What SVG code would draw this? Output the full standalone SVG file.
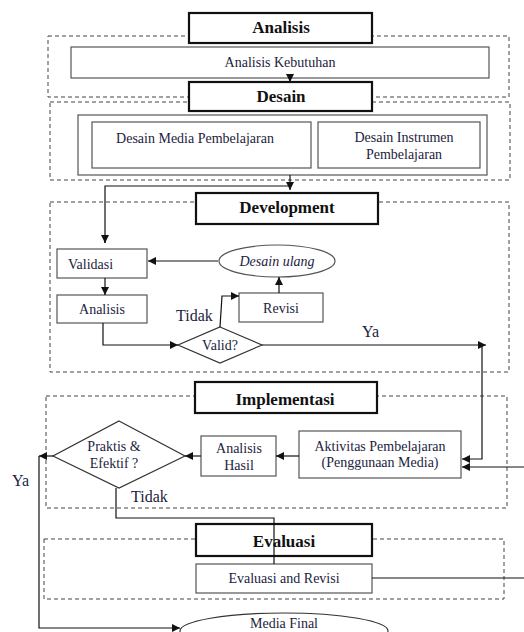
<svg xmlns="http://www.w3.org/2000/svg" width="524" height="632" viewBox="0 0 524 632">
<defs>
<marker id="ah" viewBox="0 0 10 10" refX="10" refY="5" markerWidth="8" markerHeight="8" markerUnits="userSpaceOnUse" orient="auto">
<path d="M0,0 L10,5 L0,10 z" fill="#111"/>
</marker>
</defs>
<style>
.dash{fill:none;stroke:#444;stroke-width:1;stroke-dasharray:4 3}
.title{fill:#fff;stroke:#111;stroke-width:2.2}
.box{fill:#fff;stroke:#555;stroke-width:1.2}
.tt{font-family:"Liberation Serif","Times New Roman",serif;font-weight:bold;font-size:17px;fill:#111;text-anchor:middle}
.t{font-family:"Liberation Serif","Times New Roman",serif;font-size:14px;fill:#1c2340;text-anchor:middle}
.lbl{font-family:"Liberation Serif","Times New Roman",serif;font-size:16px;fill:#1c2340}
.ln{fill:none;stroke:#111;stroke-width:1.2}
</style>
<rect width="524" height="632" fill="#fff"/>

<g id="sections">
<rect class="dash" x="48" y="36" width="461" height="61"/>
<rect class="dash" x="50" y="102" width="460" height="78"/>
<rect class="dash" x="50" y="202" width="459" height="170"/>
<rect class="dash" x="46" y="396" width="461" height="112"/>
<rect class="dash" x="44" y="539" width="460" height="60"/>
</g>

<g id="analisis">
<rect class="title" x="189" y="13" width="183" height="30"/>
<text class="tt" x="281" y="33">Analisis</text>
</g>
<g id="analisis-kebutuhan">
<rect class="box" x="71" y="47" width="418" height="31"/>
<text class="t" x="280" y="67">Analisis Kebutuhan</text>
</g>
<g id="desain">
<rect class="title" x="189" y="82" width="183" height="29"/>
<text class="tt" x="281" y="102">Desain</text>
</g>
<g id="desain-group">
<rect class="box" x="78" y="115" width="409" height="60"/>
</g>
<g id="desain-media">
<rect class="box" x="92" y="122" width="219" height="46"/>
<text class="t" x="195" y="143">Desain Media Pembelajaran</text>
</g>
<g id="desain-instrumen">
<rect class="box" x="318" y="122" width="162" height="46"/>
<text class="t" x="404" y="142">Desain Instrumen</text>
<text class="t" x="404" y="159">Pembelajaran</text>
</g>

<g id="development">
<rect class="title" x="196" y="193" width="182" height="31"/>
<text class="tt" x="287" y="213">Development</text>
</g>
<g id="validasi">
<rect class="box" x="57" y="249" width="90" height="29"/>
<text class="t" x="68" y="269" style="text-anchor:start">Validasi</text>
</g>
<g id="analisis-dev">
<rect class="box" x="57" y="295" width="90" height="28"/>
<text class="t" x="102" y="314">Analisis</text>
</g>
<g id="desain-ulang">
<ellipse cx="277" cy="261" rx="58" ry="16" fill="#fff" stroke="#555" stroke-width="1.2"/>
<text class="t" x="277" y="266" font-style="italic">Desain ulang</text>
</g>
<g id="revisi">
<rect class="box" x="239" y="293" width="84" height="29"/>
<text class="t" x="281" y="313">Revisi</text>
</g>
<g id="valid">
<polygon points="220,327 262,345 220,363 178,345" fill="#fff" stroke="#333" stroke-width="1.2"/>
<text class="t" x="220" y="350">Valid?</text>
</g>
<g id="labels-dev">
<text class="lbl" x="176" y="321">Tidak</text>
<text class="lbl" x="362" y="337">Ya</text>
</g>

<g id="implementasi">
<rect class="title" x="195" y="382" width="182" height="31"/>
<text class="tt" x="285" y="405">Implementasi</text>
</g>
<g id="aktivitas">
<rect class="box" x="299" y="431" width="162" height="47"/>
<text class="t" x="380" y="451">Aktivitas Pembelajaran</text>
<text class="t" x="380" y="467">(Penggunaan Media)</text>
</g>
<g id="analisis-hasil">
<rect class="box" x="201" y="436" width="75" height="40"/>
<text class="t" x="239" y="453">Analisis</text>
<text class="t" x="239" y="470">Hasil</text>
</g>
<g id="praktis">
<polygon points="119,421 185,456 119,488 53,456" fill="#fff" stroke="#333" stroke-width="1.2"/>
<text class="t" x="114" y="451">Praktis &amp;</text>
<text class="t" x="114" y="468">Efektif ?</text>
</g>
<g id="labels-impl">
<text class="lbl" x="131" y="502">Tidak</text>
<text class="lbl" x="12" y="486">Ya</text>
</g>

<g id="evaluasi">
<rect class="title" x="196" y="524" width="176" height="32"/>
<text class="tt" x="284" y="547">Evaluasi</text>
</g>
<g id="evaluasi-revisi">
<rect class="box" x="196" y="564" width="176" height="29"/>
<text class="t" x="284" y="583">Evaluasi and Revisi</text>
</g>
<g id="media-final">
<ellipse cx="284" cy="631" rx="104" ry="18" fill="#fff" stroke="#333" stroke-width="1.2"/>
<text class="t" x="284" y="628">Media Final</text>
</g>

<g id="connectors">
<path class="ln" d="M290,78 V82" marker-end="url(#ah)"/>
<path class="ln" d="M290,175 V190" marker-end="url(#ah)"/>
<path class="ln" d="M290,186 H105 V243"/>
<path class="ln" d="M105,236 V243" marker-end="url(#ah)"/>
<path class="ln" d="M105,278 V295" marker-end="url(#ah)"/>
<path class="ln" d="M218,261 H148" marker-end="url(#ah)"/>
<path class="ln" d="M279,293 V277" marker-end="url(#ah)"/>
<path class="ln" d="M103,323 V345 H178" marker-end="url(#ah)"/>
<path class="ln" d="M220,327 L222,296 H239" marker-end="url(#ah)"/>
<path class="ln" d="M262,345 H486" marker-end="url(#ah)"/>
<path class="ln" d="M482,345 V459 H462" marker-end="url(#ah)"/>
<path class="ln" d="M524,467 H462" marker-end="url(#ah)"/>
<path class="ln" d="M299,456 H276" marker-end="url(#ah)"/>
<path class="ln" d="M201,456 H185" marker-end="url(#ah)"/>
<path class="ln" d="M53,456 H39" marker-end="url(#ah)"/>
<path class="ln" d="M39,456 V628 H180" marker-end="url(#ah)"/>
<path class="ln" d="M116,488 V518 H274 V564"/>
<path class="ln" d="M372,578 H524"/>
</g>
</svg>
